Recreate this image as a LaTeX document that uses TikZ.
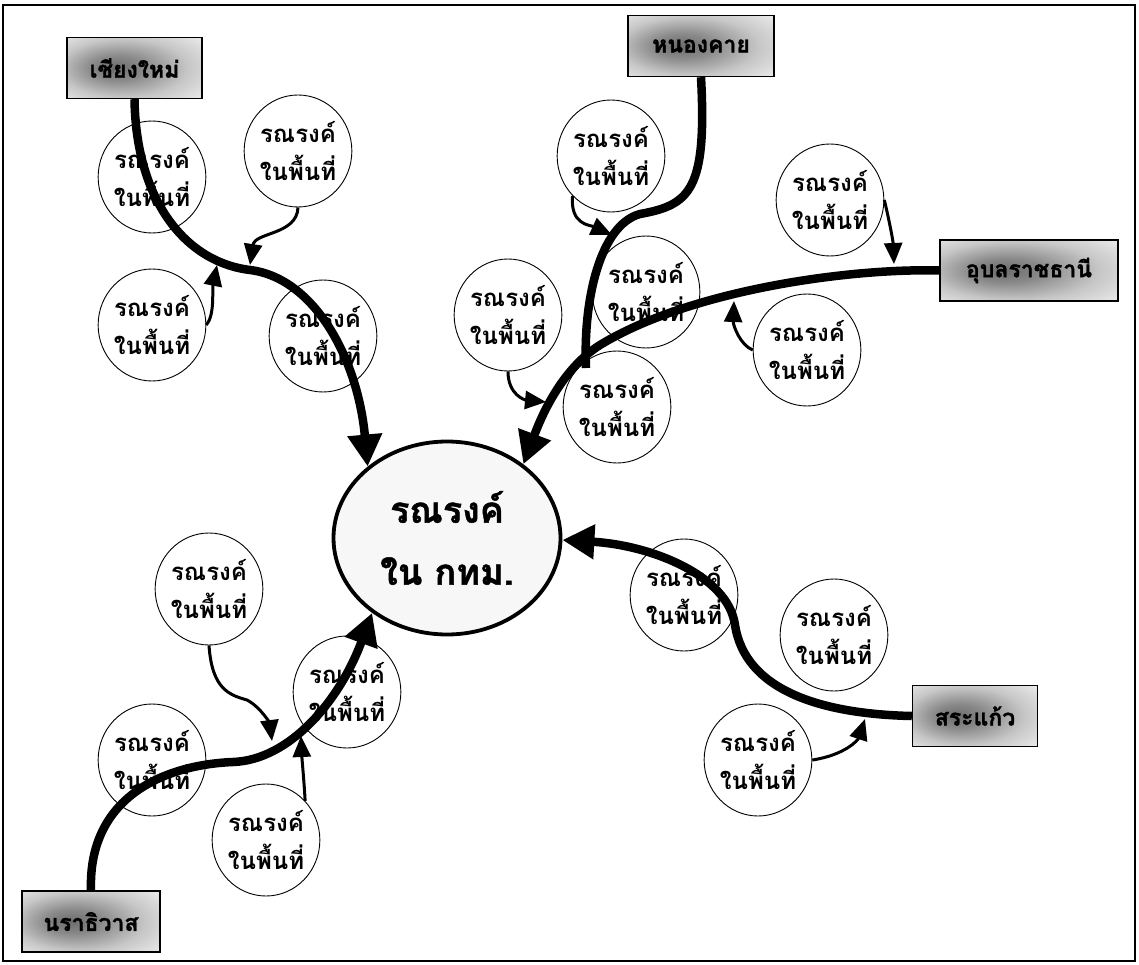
\documentclass[tikz,border=0pt]{standalone}
\usepackage{fontspec}
\newfontfamily\thaifont[Script=Thai]{Loma}
\newfontfamily\thaiheavy[Script=Thai, BoldFeatures={FakeBold=1.3}]{Loma}
\usetikzlibrary{arrows.meta,shapes.geometric}
% smudgy grey fill of the province labels
\pgfdeclareradialshading{smudge}{\pgfpoint{-8bp}{0bp}}{%
  color(0bp)=(black!58); color(10bp)=(black!46); color(24bp)=(black!22);
  color(38bp)=(black!7); color(50bp)=(white)}
\begin{document}
\begin{tikzpicture}[x=1pt,y=-1pt,
  bubble/.style={draw, ellipse, line width=0.9pt, minimum width=100pt,
    minimum height=112pt, inner sep=0pt, align=center,
    font=\thaifont\bfseries\fontsize{24}{38}\selectfont},
  hubnode/.style={draw, ellipse, line width=3.8pt, fill=gray!6,
    minimum width=227pt, minimum height=193pt, inner sep=0pt, align=center,
    font=\thaiheavy\bfseries\fontsize{36}{62}\selectfont},
  place/.style={draw, line width=1.4pt, shading=smudge,
    minimum height=61pt, inner sep=0pt,
    font=\thaiheavy\bfseries\fontsize{23}{28}\selectfont},
  trunk/.style={line width=8.5pt},
  trunkarrow/.style={trunk, -{Triangle[length=32pt,width=33pt]}},
  feed/.style={line width=3pt, -{Triangle[length=21pt,width=18pt]}}]
\useasboundingbox (0,0) rectangle (1139,965);
\draw[line width=1.5pt] (3,5) rectangle (1135,961);

% central target
\node[hubnode] (hub) at (447,538) {รณรงค์\\ใน กทม.};

% provinces
\node[place, minimum width=135pt] (cm) at (134.5,68)  {เชียงใหม่};
\node[place, minimum width=146pt] (nk) at (701,46)    {หนองคาย};
\node[place, minimum width=178pt] (ub) at (1029,270.5) {อุบลราชธานี};
\node[place, minimum width=125pt] (sk) at (975,716)   {สระแก้ว};
\node[place, minimum width=138pt] (nr) at (91,921.5)  {นราธิวาส};

% local campaigns
\node[bubble] (c1)  at (152,177) {รณรงค์\\ในพื้นที่};
\node[bubble] (c2)  at (298,151) {รณรงค์\\ในพื้นที่};
\node[bubble] (c3)  at (152,325) {รณรงค์\\ในพื้นที่};
\node[bubble] (c4)  at (323,336) {รณรงค์\\ในพื้นที่};
\node[bubble] (c5)  at (611,156) {รณรงค์\\ในพื้นที่};
\node[bubble] (c6)  at (646,292) {รณรงค์\\ในพื้นที่};
\node[bubble] (c7)  at (508,315) {รณรงค์\\ในพื้นที่};
\node[bubble] (c8)  at (617,407) {รณรงค์\\ในพื้นที่};
\node[bubble] (c9)  at (830,200) {รณรงค์\\ในพื้นที่};
\node[bubble] (c10) at (807,350) {รณรงค์\\ในพื้นที่};
\node[bubble] (c11) at (684,595) {รณรงค์\\ในพื้นที่};
\node[bubble] (c12) at (834,635) {รณรงค์\\ในพื้นที่};
\node[bubble] (c13) at (758,760) {รณรงค์\\ในพื้นที่};
\node[bubble] (c14) at (209,589) {รณรงค์\\ในพื้นที่};
\node[bubble] (c15) at (347,692) {รณรงค์\\ในพื้นที่};
\node[bubble] (c16) at (152,760) {รณรงค์\\ในพื้นที่};
\node[bubble] (c17) at (266,840) {รณรงค์\\ในพื้นที่};

% joining points on the trunks
\coordinate (jA2) at (250,265);
\coordinate (jA3) at (217,265);
\coordinate (jB)  at (612,235);
\coordinate (nkEnd) at (586,368);
\coordinate (jC1) at (894,264);
\coordinate (jC2) at (734,301);
\coordinate (jC3) at (546,402);
\coordinate (jD)  at (865,719);
\coordinate (jE1) at (272,741);
\coordinate (jE2) at (301,736);

% trunks
\draw[trunkarrow] (cm.south) .. controls (136,200) and (185,262) .. (250,270)
  .. controls (315,278) and (358,360) .. (hub.138);
\draw[trunk] (nk.south) .. controls (707,190) and (690,205) .. (640,214)
  .. controls (600,225) and (583,300) .. (nkEnd);
\draw[trunkarrow] (ub.west) .. controls (850,268) and (690,290) .. (600,345)
  .. controls (560,370) and (540,420) .. (hub.44);
\draw[trunkarrow] (sk.west) .. controls (820,714) and (745,690) .. (735,625)
  .. controls (728,575) and (650,545) .. (hub.-1);
\draw[trunkarrow] (nr.north) .. controls (88,800) and (160,765) .. (233,762)
  .. controls (290,760) and (340,700) .. (hub.225);

% feeders
\draw[feed] (c2.south) .. controls (297,235) and (255,232) .. (jA2);
\draw[feed] (c3.east) .. controls (215,315) and (212,290) .. (jA3);
\draw[feed] (c5.226) .. controls (570,225) and (590,225) .. (jB);
\draw[feed] (c9.east) .. controls (888,215) and (893,240) .. (jC1);
\draw[feed] (c10.west) .. controls (740,345) and (733,325) .. (jC2);
\draw[feed] (c7.south) .. controls (508,395) and (525,400) .. (jC3);
\draw[feed] (c13.east) .. controls (845,755) and (858,740) .. (jD);
\draw[feed] (c14.south) .. controls (212,690) and (230,695) .. (247,700)
  .. controls (262,708) and (270,725) .. (jE1);
\draw[feed] (c17.45) .. controls (304,780) and (302,760) .. (jE2);
\end{tikzpicture}
\end{document}
